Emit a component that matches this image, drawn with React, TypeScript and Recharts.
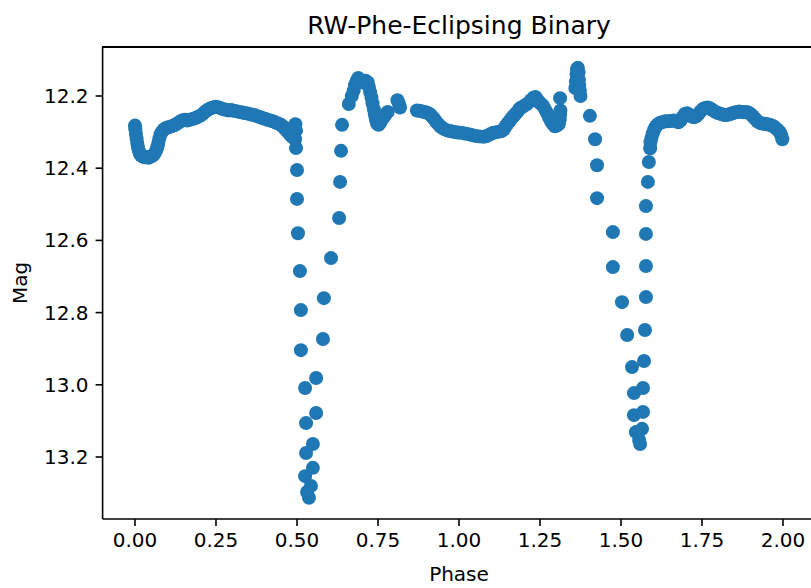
import { ScatterChart, Scatter, XAxis, YAxis } from "recharts";

// phase, magnitude pairs
const plateauA: [number, number][] = [
  [0.000, 12.282], [0.001, 12.292], [0.003, 12.305], [0.005, 12.318], [0.007, 12.330],
  [0.009, 12.342], [0.012, 12.352], [0.015, 12.360], [0.019, 12.365], [0.024, 12.368],
  [0.030, 12.370], [0.036, 12.369], [0.042, 12.371], [0.048, 12.368], [0.054, 12.366],
  [0.060, 12.360], [0.065, 12.352], [0.069, 12.342], [0.072, 12.330], [0.075, 12.318],
  [0.079, 12.306], [0.084, 12.298], [0.090, 12.292], [0.097, 12.288], [0.105, 12.286],
  [0.113, 12.284], [0.121, 12.281], [0.129, 12.277], [0.137, 12.272], [0.145, 12.268],
  [0.153, 12.266], [0.161, 12.268], [0.169, 12.266], [0.177, 12.264], [0.185, 12.262],
  [0.193, 12.258], [0.201, 12.255], [0.209, 12.250], [0.217, 12.243], [0.225, 12.238],
  [0.233, 12.234], [0.241, 12.232], [0.249, 12.230], [0.257, 12.231], [0.265, 12.234],
  [0.273, 12.237], [0.281, 12.238], [0.289, 12.240], [0.297, 12.239], [0.305, 12.241],
  [0.313, 12.242], [0.321, 12.244], [0.329, 12.245], [0.337, 12.247], [0.345, 12.248],
  [0.353, 12.250], [0.361, 12.252], [0.369, 12.253], [0.377, 12.256], [0.385, 12.258],
  [0.393, 12.261], [0.401, 12.263], [0.409, 12.266], [0.417, 12.268], [0.425, 12.270],
  [0.433, 12.273], [0.441, 12.276], [0.449, 12.279], [0.456, 12.284], [0.462, 12.290],
  [0.468, 12.296], [0.474, 12.302], [0.480, 12.308], [0.486, 12.314], [0.490, 12.300],
  [0.492, 12.285], [0.495, 12.278], [0.497, 12.296], [0.494, 12.320],
];

const primaryEclipse: [number, number][] = [
  [0.497, 12.344], [0.500, 12.405], [0.500, 12.485], [0.503, 12.580], [0.509, 12.685],
  [0.512, 12.793], [0.512, 12.904], [0.525, 13.009], [0.528, 13.106], [0.528, 13.189],
  [0.525, 13.253], [0.531, 13.297], [0.537, 13.313], [0.543, 13.280], [0.549, 13.230],
  [0.549, 13.164], [0.559, 13.078], [0.559, 12.981], [0.580, 12.873], [0.583, 12.760],
  [0.605, 12.649], [0.630, 12.538], [0.633, 12.438], [0.636, 12.352], [0.639, 12.280],
];

const plateauB: [number, number][] = [
  [0.660, 12.222], [0.669, 12.200], [0.675, 12.185], [0.679, 12.170], [0.684, 12.158],
  [0.689, 12.150], [0.694, 12.155], [0.700, 12.162], [0.712, 12.158], [0.718, 12.162],
  [0.722, 12.175], [0.726, 12.190], [0.730, 12.205], [0.733, 12.220], [0.737, 12.236],
  [0.740, 12.250], [0.743, 12.264], [0.747, 12.276], [0.752, 12.280], [0.757, 12.274],
  [0.762, 12.266], [0.768, 12.258], [0.774, 12.250], [0.780, 12.244], [0.810, 12.212],
  [0.815, 12.222], [0.818, 12.232],
  [0.870, 12.240], [0.877, 12.241], [0.884, 12.242], [0.891, 12.244], [0.898, 12.245],
  [0.905, 12.248], [0.912, 12.252], [0.918, 12.258], [0.924, 12.264], [0.930, 12.272],
  [0.936, 12.278], [0.942, 12.284], [0.949, 12.289], [0.957, 12.293], [0.966, 12.296],
  [0.976, 12.298], [0.986, 12.300], [0.996, 12.301], [1.006, 12.302], [1.018, 12.304],
  [1.030, 12.306], [1.040, 12.308], [1.052, 12.311], [1.064, 12.312], [1.076, 12.313],
  [1.086, 12.311], [1.096, 12.306], [1.106, 12.302], [1.118, 12.300], [1.130, 12.298],
  [1.138, 12.293], [1.144, 12.284], [1.150, 12.276], [1.156, 12.270], [1.162, 12.262],
  [1.168, 12.256], [1.174, 12.250], [1.180, 12.244], [1.186, 12.236], [1.192, 12.232],
  [1.200, 12.228], [1.210, 12.222], [1.222, 12.212], [1.230, 12.205], [1.236, 12.203],
  [1.242, 12.210], [1.248, 12.218], [1.254, 12.222], [1.260, 12.228], [1.266, 12.238],
  [1.272, 12.248], [1.278, 12.260], [1.284, 12.270], [1.290, 12.278], [1.296, 12.284],
  [1.302, 12.282], [1.308, 12.278], [1.311, 12.265], [1.312, 12.252], [1.313, 12.240],
  [1.312, 12.206],
  [1.359, 12.178], [1.361, 12.160], [1.363, 12.140], [1.364, 12.125], [1.367, 12.122],
  [1.369, 12.135], [1.370, 12.155], [1.371, 12.170], [1.373, 12.185], [1.375, 12.200],
];

const secondaryEclipse: [number, number][] = [
  [1.404, 12.255], [1.420, 12.320], [1.426, 12.392], [1.426, 12.483], [1.475, 12.577],
  [1.475, 12.674], [1.503, 12.771], [1.519, 12.862], [1.534, 12.951], [1.540, 13.023],
  [1.540, 13.084], [1.546, 13.131], [1.556, 13.153], [1.559, 13.164], [1.565, 13.122],
  [1.568, 13.075], [1.568, 13.009], [1.571, 12.934], [1.574, 12.848], [1.577, 12.757],
  [1.577, 12.671], [1.577, 12.582], [1.577, 12.505], [1.583, 12.438], [1.586, 12.383],
  [1.590, 12.345], [1.591, 12.328],
];

const plateauC: [number, number][] = [
  [1.594, 12.316], [1.598, 12.304], [1.603, 12.292], [1.608, 12.284], [1.614, 12.278],
  [1.621, 12.274], [1.629, 12.272], [1.637, 12.270], [1.645, 12.270], [1.653, 12.269],
  [1.661, 12.268], [1.669, 12.270], [1.677, 12.273], [1.684, 12.268], [1.690, 12.258],
  [1.697, 12.250], [1.704, 12.248], [1.711, 12.252], [1.718, 12.257], [1.725, 12.259],
  [1.732, 12.256], [1.739, 12.250], [1.746, 12.242], [1.753, 12.236], [1.760, 12.233],
  [1.767, 12.232], [1.774, 12.234], [1.781, 12.238], [1.788, 12.242], [1.795, 12.246],
  [1.802, 12.248], [1.809, 12.250], [1.816, 12.252], [1.823, 12.253], [1.830, 12.252],
  [1.837, 12.250], [1.844, 12.248], [1.851, 12.246], [1.858, 12.244], [1.865, 12.243],
  [1.872, 12.244], [1.879, 12.245], [1.886, 12.244], [1.893, 12.246], [1.900, 12.250],
  [1.907, 12.256], [1.914, 12.263], [1.921, 12.270], [1.928, 12.274], [1.935, 12.276],
  [1.942, 12.277], [1.949, 12.278], [1.956, 12.279], [1.963, 12.281], [1.970, 12.284],
  [1.977, 12.289], [1.984, 12.294], [1.990, 12.300], [1.995, 12.310], [1.998, 12.320],
];

const xTicks = [0, 0.25, 0.5, 0.75, 1, 1.25, 1.5, 1.75, 2];
const yTicks = [12.2, 12.4, 12.6, 12.8, 13.0, 13.2];

const points = [...plateauA, ...primaryEclipse, ...plateauB, ...secondaryEclipse, ...plateauC].map(
  ([phase, mag]) => ({ phase, mag })
);

const FONT = "DejaVu Sans";
const BLUE = "#1f77b4";

const Dot = (props: any) => <circle cx={props.cx} cy={props.cy} r={7} fill={BLUE} />;

export default function App() {
  const tickStyle = { fill: "#000", fontSize: 20, fontFamily: FONT };
  return (
    <div
      style={{
        position: "absolute",
        left: 0,
        top: 0,
        width: 811,
        height: 588,
        overflow: "hidden",
        background: "#fff",
        fontFamily: FONT,
      }}
    >
      <ScatterChart width={830} height={588} margin={{ top: 47, right: 14.6, bottom: 0, left: 0 }}>
        <XAxis
          type="number"
          dataKey="phase"
          domain={[-0.1, 2.1]}
          ticks={xTicks}
          tickFormatter={(v) => Number(v).toFixed(2)}
          height={69}
          tickSize={7}
          tickMargin={7}
          tick={tickStyle}
          axisLine={{ stroke: "#000", strokeWidth: 1.6 }}
          tickLine={{ stroke: "#000", strokeWidth: 1.6 }}
          allowDataOverflow
        />
        <YAxis
          type="number"
          dataKey="mag"
          domain={[12.0643, 13.3717]}
          reversed
          ticks={yTicks}
          tickFormatter={(v) => Number(v).toFixed(1)}
          width={102.6}
          tickSize={7}
          tickMargin={7}
          tick={tickStyle}
          axisLine={{ stroke: "#000", strokeWidth: 1.6 }}
          tickLine={{ stroke: "#000", strokeWidth: 1.6 }}
          allowDataOverflow
        />
        <Scatter data={points} shape={Dot} isAnimationActive={false} />
      </ScatterChart>

      {/* top spine */}
      <div style={{ position: "absolute", left: 102, top: 46.2, width: 720, height: 1.6, background: "#000" }} />

      <div
        style={{
          position: "absolute",
          left: 102.6,
          width: 712.8,
          top: 13,
          fontSize: 25,
          lineHeight: "25px",
          textAlign: "center",
          color: "#000",
        }}
      >
        RW-Phe-Eclipsing Binary
      </div>
      <div
        style={{
          position: "absolute",
          left: 102.6,
          width: 712.8,
          top: 564,
          fontSize: 20,
          lineHeight: "20px",
          textAlign: "center",
          color: "#000",
        }}
      >
        Phase
      </div>
      <div
        style={{
          position: "absolute",
          left: -30,
          top: 273,
          width: 100,
          fontSize: 20,
          lineHeight: "20px",
          textAlign: "center",
          color: "#000",
          transform: "rotate(-90deg)",
        }}
      >
        Mag
      </div>
    </div>
  );
}
